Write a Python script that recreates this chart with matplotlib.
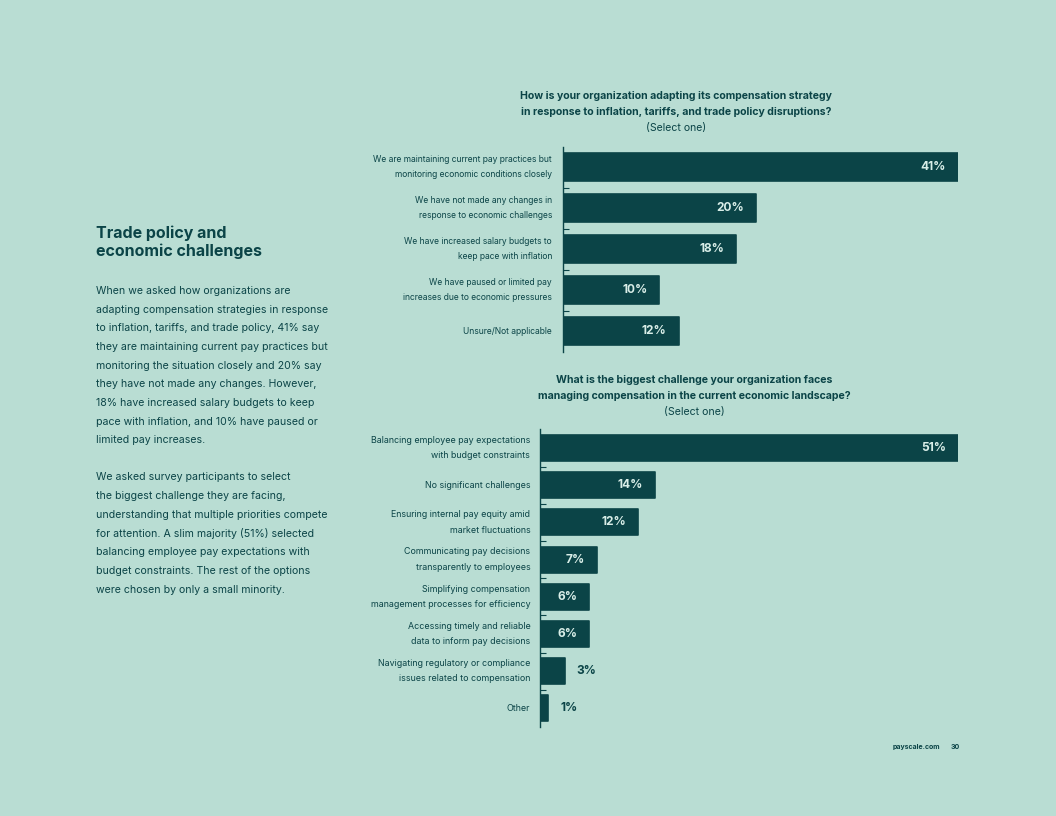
import matplotlib.pyplot as plt
from matplotlib.ticker import FixedLocator

plt.rcParams['font.family'] = ['Inter', 'DejaVu Sans']

BG = '#b9ddd3'
DARK = '#0b4447'
LIGHT = '#d9eee8'

# top chart data
q1_labels = [
    'We are maintaining current pay practices but\nmonitoring economic conditions closely',
    'We have not made any changes in\nresponse to economic challenges',
    'We have increased salary budgets to\nkeep pace with inflation',
    'We have paused or limited pay\nincreases due to economic pressures',
    'Unsure/Not applicable',
]
q1_values = [41, 20, 18, 10, 12]

# bottom chart data
q2_labels = [
    'Balancing employee pay expectations\nwith budget constraints',
    'No significant challenges',
    'Ensuring internal pay equity amid\nmarket fluctuations',
    'Communicating pay decisions\ntransparently to employees',
    'Simplifying compensation\nmanagement processes for efficiency',
    'Accessing timely and reliable\ndata to inform pay decisions',
    'Navigating regulatory or compliance\nissues related to compensation',
    'Other',
]
q2_values = [51, 14, 12, 7, 6, 6, 3, 1]

heading = ['Trade policy and', 'economic challenges']
para1 = ['When we asked how organizations are',
         'adapting compensation strategies in response',
         'to inflation, tariffs, and trade policy, 41% say',
         'they are maintaining current pay practices but',
         'monitoring the situation closely and 20% say',
         'they have not made any changes. However,',
         '18% have increased salary budgets to keep',
         'pace with inflation, and 10% have paused or',
         'limited pay increases.']
para2 = ['We asked survey participants to select',
         'the biggest challenge they are facing,',
         'understanding that multiple priorities compete',
         'for attention. A slim majority (51%) selected',
         'balancing employee pay expectations with',
         'budget constraints. The rest of the options',
         'were chosen by only a small minority.']

fig = plt.figure(figsize=(10.56, 8.16), dpi=100, facecolor=BG)
W, H = 1056, 816


def px(x, y):
    return x / W, 1 - y / H


def bar_chart(rect, labels, values, height, pad, lsize, lspace):
    ax = fig.add_axes(rect)
    ax.set_facecolor(BG)
    y = list(range(len(values)))
    ax.barh(y, values, height=height, color=DARK, edgecolor=DARK,
            linewidth=1.2, joinstyle='round')
    ax.set_xlim(0, max(values))
    ax.set_ylim(len(values) - 0.5, -0.5)
    for s in ['top', 'right', 'bottom']:
        ax.spines[s].set_visible(False)
    ax.spines['left'].set_color(DARK)
    ax.spines['left'].set_linewidth(1.0)
    ax.set_xticks([])
    ax.set_yticks(y, labels, fontsize=lsize, color=DARK, linespacing=lspace)
    for lbl in ax.get_yticklabels():
        lbl.set_va('center')
    ax.tick_params(axis='y', which='major', length=0, pad=pad)
    ax.yaxis.set_minor_locator(FixedLocator([i + 0.5 for i in y[:-1]]))
    ax.tick_params(axis='y', which='minor', direction='in', length=4,
                   width=0.8, color=DARK)
    # value labels
    scale = max(values) / (rect[2] * W)  # data units per pixel
    for yi, v in zip(y, values):
        txt = f'{v}%'
        if v >= 5:
            ax.text(v - 12 * scale, yi, txt, ha='right', va='center',
                    fontsize=8.6, fontweight='bold', color=LIGHT)
        else:
            ax.text(v + 12 * scale, yi, txt, ha='left', va='center',
                    fontsize=8.6, fontweight='bold', color=DARK)
    return ax


bar_chart([563 / W, 1 - 351.5 / H, 395 / W, 205 / H],
          q1_labels, q1_values, 0.68, 8, 6.1, 1.85)
bar_chart([540 / W, 1 - 727 / H, 418 / W, 297.6 / H],
          q2_labels, q2_values, 0.70, 7, 6.4, 1.9)

# chart titles
fig.text(*px(676, 96),
         'How is your organization adapting its compensation strategy',
         ha='center', va='center', fontsize=7.55, fontweight='bold', color=DARK)
fig.text(*px(676, 112),
         'in response to inflation, tariffs, and trade policy disruptions?',
         ha='center', va='center', fontsize=7.55, fontweight='bold', color=DARK)
fig.text(*px(676, 128.5), '(Select one)',
         ha='center', va='center', fontsize=7.55, color=DARK)

fig.text(*px(694, 380),
         'What is the biggest challenge your organization faces',
         ha='center', va='center', fontsize=7.6, fontweight='bold', color=DARK)
fig.text(*px(694, 396),
         'managing compensation in the current economic landscape?',
         ha='center', va='center', fontsize=7.6, fontweight='bold', color=DARK)
fig.text(*px(694, 412), '(Select one)',
         ha='center', va='center', fontsize=7.6, color=DARK)

# left column text
for i, line in enumerate(heading):
    fig.text(*px(96, 233 + 18.5 * i), line, ha='left', va='center',
             fontsize=11.5, fontweight='bold', color=DARK)

for i, line in enumerate(para1):
    fig.text(*px(96, 291 + 18.67 * i), line, ha='left', va='center',
             fontsize=7.6, color=DARK)
for i, line in enumerate(para2):
    fig.text(*px(96, 477.5 + 18.67 * i), line, ha='left', va='center',
             fontsize=7.6, color=DARK)

# footer
fig.text(*px(940, 747), 'payscale.com', ha='right', va='center',
         fontsize=5, fontweight='bold', color=DARK)
fig.text(*px(960, 747), '30', ha='right', va='center',
         fontsize=5, fontweight='bold', color=DARK)

fig.savefig('out.png', dpi=100, facecolor=BG)
